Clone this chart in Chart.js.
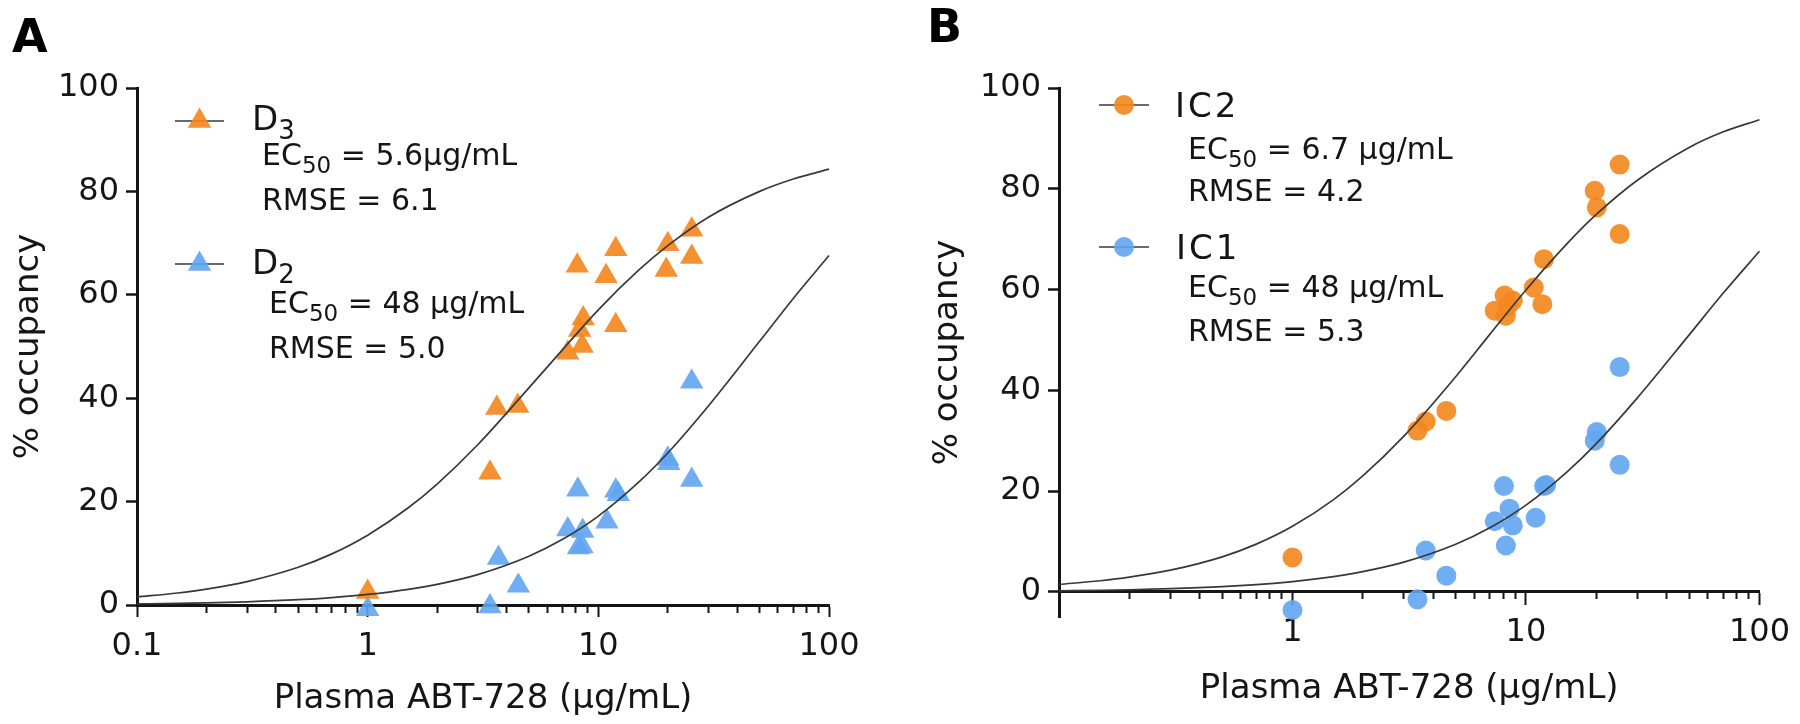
<!DOCTYPE html>
<html>
<head>
<meta charset="utf-8">
<script src="https://cdn.jsdelivr.net/npm/chart.js@4.4.1/dist/chart.umd.min.js"></script>
<style>
  html, body { margin: 0; padding: 0; background: #fff; }
  #wrap { position: relative; width: 1800px; height: 724px; }
  canvas { position: absolute; top: 0; }
  #panelA { left: 0; }
  #panelB { left: 900px; }
</style>
</head>
<body>
<div id="wrap">
  <canvas id="panelA" width="900" height="724"></canvas>
  <canvas id="panelB" width="900" height="724"></canvas>
</div>
<script>
// ---------- values ----------
const xMajorTicks = [0.1, 1, 10, 100];
const yTicks = [0, 20, 40, 60, 80, 100];

// fitted curves, read at these x positions
const curveX   = [0.1, 0.15, 0.2, 0.3, 0.5, 0.7, 1, 1.5, 2, 3, 5, 7, 10, 15, 20, 30, 50, 70, 100];
const d3Curve  = [1.56, 2.32, 3.07, 4.53, 7.30, 9.89, 13.5, 18.8, 23.4, 31.0, 42.0, 49.4, 57.1, 64.8, 69.5, 75.0, 80.0, 82.4, 84.3];
const d2Curve  = [0.21, 0.31, 0.41, 0.62, 1.03, 1.44, 2.04, 3.03, 4.00, 5.88, 9.43, 12.7, 17.2, 23.8, 29.4, 38.5, 51.0, 59.3, 67.6];
const ic2Curve = [1.47, 2.19, 2.90, 4.29, 6.94, 9.46, 13.0, 18.3, 23.0, 30.9, 42.7, 51.1, 59.9, 69.1, 74.9, 81.7, 88.2, 91.3, 93.7];
const ic1Curve = [0.21, 0.31, 0.41, 0.62, 1.03, 1.44, 2.04, 3.03, 4.00, 5.88, 9.43, 12.7, 17.2, 23.8, 29.4, 38.5, 51.0, 59.3, 67.6];

// panel A: D3 / D2 occupancy (triangles)
const d3X = [1, 3.39, 3.63, 4.47, 7.37, 8.51, 8.3, 8.6, 8.1, 10.8, 11.9, 11.9, 20, 19.7, 25.4, 25.4];
const d3Y = [2.5, 25.6, 38.1, 38.5, 48.8, 50.1, 53.2, 55.4, 65.6, 63.6, 68.8, 54.1, 69.8, 64.8, 72.6, 67.3];
const d2X = [1, 3.39, 3.69, 4.5, 7.37, 8.15, 8.55, 8.5, 8.2, 10.9, 11.9, 12.2, 20, 20.2, 25.4, 25.4];
const d2Y = [-0.8, -0.3, 9.1, 3.7, 14.6, 22.3, 14.3, 11.3, 11.1, 16.1, 22.1, 21.4, 28.3, 27.4, 43.2, 24.2];

// panel B: IC2 / IC1 occupancy (circles)
const ic2X = [1, 3.43, 3.72, 4.56, 8.1, 7.35, 8.36, 8.78, 8.2, 10.8, 11.75, 11.95, 19.7, 20.1, 25.2, 25.2];
const ic2Y = [6.8, 32.0, 33.8, 35.9, 58.8, 55.8, 56.8, 57.8, 54.8, 60.4, 57.1, 66.0, 79.6, 76.3, 71.0, 84.8];
const ic1X = [1, 3.43, 3.72, 4.56, 8.05, 7.35, 8.5, 8.78, 8.2, 11.0, 11.95, 12.2, 20.1, 19.7, 25.2, 25.2];
const ic1Y = [-3.6, -1.5, 8.2, 3.2, 21.0, 14.0, 16.5, 13.2, 9.2, 14.7, 21.0, 21.2, 31.7, 30.0, 25.2, 44.6];

const seriesNamesA = ['D_{3}', 'D_{2}'];
const fitTextA = [['EC_{50} = 5.6μg/mL', 'RMSE = 6.1'], ['EC_{50} = 48 μg/mL', 'RMSE = 5.0']];
const seriesNamesB = ['IC2', 'IC1'];
const fitTextB = [['EC_{50} = 6.7 μg/mL', 'RMSE = 4.2'], ['EC_{50} = 48 μg/mL', 'RMSE = 5.3']];

const xTitle = 'Plasma ABT-728 (μg/mL)';
const yTitle = '% occupancy';

// ---------- styles ----------
const FONT = "'DejaVu Sans', sans-serif";
const INK = '#151515';
const orange = 'rgba(243, 136, 32, 0.92)';
const blue = 'rgba(96, 165, 240, 0.9)';
const curveColor = '#383838';

Chart.defaults.font.family = FONT;
Chart.defaults.color = INK;

// minor + major positions for the log axis
const logTicks = [];
[0.1, 1, 10].forEach(d => { for (let k = 1; k <= 9; k++) logTicks.push(+(k * d).toPrecision(3)); });
logTicks.push(100);

const isMajor = v => xMajorTicks.some(m => Math.abs(m - v) < 1e-9);

function toPoints(xs, ys) {
  return xs.map((x, i) => ({ x, y: ys[i] }));
}

// draw "EC_{50}" style text with subscripts
function drawRich(ctx, str, x, y, size, spacing) {
  ctx.letterSpacing = (spacing || 0) + 'px';
  str.split(/(_\{[^}]*\})/).forEach(part => {
    if (!part) return;
    const sub = part.startsWith('_{');
    const t = sub ? part.slice(2, -1) : part;
    ctx.font = `${sub ? Math.round(size * 0.75) : size}px ${FONT}`;
    ctx.fillText(t, x, y + (sub ? size * 0.25 : 0));
    x += ctx.measureText(t).width;
  });
  ctx.letterSpacing = '0px';
}

function drawMarker(ctx, style, r, x, y, color) {
  ctx.fillStyle = color;
  ctx.beginPath();
  if (style === 'triangle') {
    ctx.moveTo(x, y - r);
    ctx.lineTo(x + r * Math.sin(Math.PI / 3), y + r / 2);
    ctx.lineTo(x - r * Math.sin(Math.PI / 3), y + r / 2);
    ctx.closePath();
  } else {
    ctx.arc(x, y, r, 0, Math.PI * 2);
  }
  ctx.fill();
}

// legend, fit statistics and panel letter
const panelText = {
  id: 'panelText',
  afterDraw(chart, args, opts) {
    const ctx = chart.ctx;
    ctx.save();
    ctx.textBaseline = 'alphabetic';
    ctx.textAlign = 'left';
    ctx.fillStyle = '#000';
    ctx.font = `bold 46px ${FONT}`;
    ctx.fillText(opts.letter, opts.letterX, opts.letterY);

    opts.entries.forEach(e => {
      ctx.strokeStyle = curveColor;
      ctx.lineWidth = 1.6;
      ctx.beginPath();
      ctx.moveTo(e.x1, e.lineY);
      ctx.lineTo(e.x2, e.lineY);
      ctx.stroke();
      drawMarker(ctx, opts.pointStyle, opts.radius, (e.x1 + e.x2) / 2, e.lineY, e.color);
      ctx.fillStyle = INK;
      drawRich(ctx, e.label, e.textX, e.textY, 34, opts.labelSpacing);
      e.stats.forEach((s, i) => drawRich(ctx, s, e.statX, e.statY[i], 30, 0));
    });
    ctx.restore();
  }
};

function makePanel(canvas, p) {
  const scatterSet = (label, xs, ys, color) => ({
    label,
    data: toPoints(xs, ys),
    pointStyle: p.pointStyle,
    pointRadius: p.radius,
    pointBackgroundColor: color,
    pointBorderWidth: 0,
    showLine: false,
    clip: false,
    order: 2
  });
  const curveSet = (label, ys) => ({
    label,
    data: toPoints(curveX, ys),
    showLine: true,
    pointRadius: 0,
    borderColor: curveColor,
    borderWidth: 1.7,
    cubicInterpolationMode: 'monotone',
    clip: false,
    order: 1
  });

  return new Chart(canvas.getContext('2d'), {
    type: 'scatter',
    data: {
      datasets: [
        curveSet('fit 1', p.curves[0]),
        curveSet('fit 2', p.curves[1]),
        scatterSet(p.names[0], p.series[0][0], p.series[0][1], orange),
        scatterSet(p.names[1], p.series[1][0], p.series[1][1], blue)
      ]
    },
    options: {
      responsive: false,
      animation: false,
      devicePixelRatio: 1,
      events: [],
      layout: { padding: p.padding },
      plugins: {
        legend: { display: false },
        tooltip: { enabled: false },
        panelText: {
          letter: p.letter, letterX: p.letterX, letterY: p.letterY,
          pointStyle: p.pointStyle, radius: p.radius,
          labelSpacing: p.labelSpacing,
          entries: p.entries
        }
      },
      scales: {
        x: {
          type: 'logarithmic',
          min: 0.1,
          max: 100,
          position: p.xPosition,
          afterBuildTicks: s => { s.ticks = logTicks.map(v => ({ value: v, major: isMajor(v) })); },
          afterFit: s => { s.height = p.xHeight; },
          ticks: {
            autoSkip: false,
            maxRotation: 0,
            padding: 10,
            font: { size: 32 },
            color: INK,
            callback: v => (isMajor(v) && !(p.hideFirst && v === 0.1)) ? String(v) : ''
          },
          grid: {
            drawOnChartArea: false,
            tickLength: 12,
            tickWidth: 2,
            tickColor: INK,
            tickBorderDash: c => (c.tick && isMajor(c.tick.value)) ? [] : [6, 40]
          },
          border: { color: INK, width: 3 },
          title: { display: true, text: xTitle, font: { size: 34 }, color: INK, padding: p.xTitlePad }
        },
        y: {
          min: p.yMin,
          max: 100,
          afterBuildTicks: s => { s.ticks = yTicks.map(v => ({ value: v })); },
          afterFit: s => { s.width = p.yWidth; },
          ticks: { padding: 7, font: { size: 32 }, color: INK },
          grid: { drawOnChartArea: false, tickLength: 11, tickWidth: 2.5, tickColor: INK },
          border: { color: INK, width: 3 },
          title: { display: true, text: yTitle, font: { size: 34 }, color: INK, padding: { top: p.yTitleTop, bottom: 0 } }
        }
      }
    },
    plugins: [panelText]
  });
}

makePanel(document.getElementById('panelA'), {
  letter: 'A', letterX: 12, letterY: 52,
  pointStyle: 'triangle', radius: 13.5,
  names: seriesNamesA,
  series: [[d3X, d3Y], [d2X, d2Y]],
  curves: [d3Curve, d2Curve],
  padding: { left: 0, top: 88, right: 71, bottom: 0 },
  xPosition: 'bottom', xHeight: 119, xTitlePad: { top: 0, bottom: 4 },
  hideFirst: false,
  labelSpacing: 0,
  yMin: 0, yWidth: 137, yTitleTop: 9,
  entries: [
    { label: seriesNamesA[0], color: orange, x1: 175, x2: 224, lineY: 121, textX: 252, textY: 130,
      stats: fitTextA[0], statX: 262, statY: [165, 210] },
    { label: seriesNamesA[1], color: blue, x1: 175, x2: 224, lineY: 264, textX: 252, textY: 274,
      stats: fitTextA[1], statX: 269, statY: [313, 358] }
  ]
});

makePanel(document.getElementById('panelB'), {
  letter: 'B', letterX: 27, letterY: 42,
  pointStyle: 'circle', radius: 10,
  names: seriesNamesB,
  series: [[ic2X, ic2Y], [ic1X, ic1Y]],
  curves: [ic2Curve, ic1Curve],
  padding: { left: 0, top: 88, right: 34, bottom: 107 },
  xPosition: { y: 0 }, xHeight: 118, xTitlePad: { top: 0, bottom: 0 },
  hideFirst: true,
  labelSpacing: 3,
  yMin: -5, yWidth: 159, yTitleTop: 28,
  entries: [
    { label: seriesNamesB[0], color: orange, x1: 199, x2: 249, lineY: 105, textX: 275, textY: 117,
      stats: fitTextB[0], statX: 288, statY: [159, 201] },
    { label: seriesNamesB[1], color: blue, x1: 199, x2: 249, lineY: 247, textX: 276, textY: 259,
      stats: fitTextB[1], statX: 288, statY: [297, 341] }
  ]
});
</script>
</body>
</html>
